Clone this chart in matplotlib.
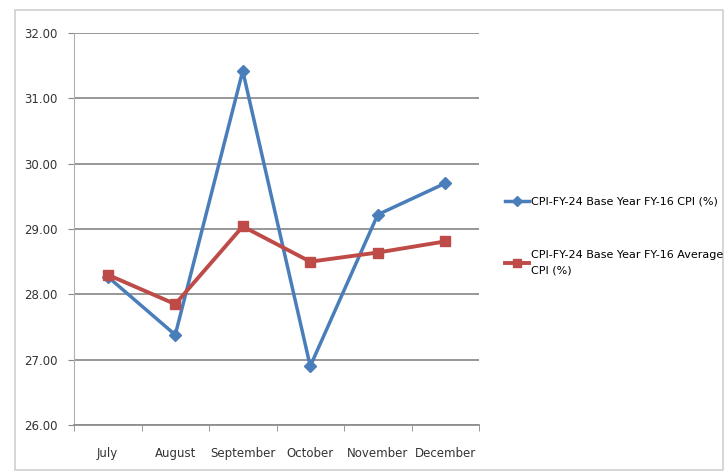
import matplotlib.pyplot as plt
from matplotlib.patches import Rectangle

months = ["July", "August", "September", "October", "November", "December"]
cpi = [28.27, 27.38, 31.42, 26.90, 29.22, 29.70]
avg_cpi = [28.30, 27.85, 29.04, 28.50, 28.64, 28.81]
labels = ["CPI-FY-24 Base Year FY-16 CPI (%)",
          "CPI-FY-24 Base Year FY-16 Average\nCPI (%)"]
yticks = [26, 27, 28, 29, 30, 31, 32]

plt.rcParams['font.family'] = ['Liberation Sans Narrow', 'DejaVu Sans']

fig = plt.figure(figsize=(7.27, 4.74), dpi=100)
fig.patches.append(Rectangle((0.02, 0.008), 0.975, 0.97, transform=fig.transFigure,
                             fill=False, edgecolor='#d0d0d0', linewidth=1.2))
ax = fig.add_axes([74 / 727, 1 - 425 / 474, 405 / 727, 392 / 474])

x = range(len(months))
l1, = ax.plot(x, cpi, color='#4a7ebb', linewidth=2.5, marker='D', markersize=6,
              label=labels[0])
l2, = ax.plot(x, avg_cpi, color='#be4b48', linewidth=2.8, marker='s', markersize=7,
              label=labels[1])

ax.set_xlim(-0.5, len(months) - 0.5)
ax.set_ylim(26, 32)
ax.set_yticks(yticks)
ax.set_yticklabels([f"{v:.2f}" for v in yticks], fontsize=8.5, color='#333333')
ax.set_xticks(list(x))
ax.set_xticklabels(months, fontsize=8.5, color='#333333')
ax.tick_params(axis='x', length=0, pad=16)
ax.set_xticks([i - 0.5 for i in range(len(months) + 1)], minor=True)
ax.tick_params(axis='x', which='minor', length=4, color='#888888', direction='out')
ax.tick_params(axis='y', length=4, color='#888888', pad=8)
ax.grid(axis='y', color='#8f8f8f', linewidth=1.3)
ax.set_axisbelow(True)
for s in ['top', 'right']:
    ax.spines[s].set_visible(False)
ax.spines['left'].set_color('#b0b0b0')
ax.spines['bottom'].set_color('#8f8f8f')
ax.spines['bottom'].set_linewidth(1.3)

leg = fig.legend(handles=[l1, l2], loc='upper left', bbox_to_anchor=(495 / 727, 1 - 187 / 474),
                 frameon=False, fontsize=8, handlelength=2.2, handletextpad=0.1,
                 labelspacing=3.9, markerscale=0.8)
for t in leg.get_texts():
    t.set_linespacing(1.6)

fig.savefig("out.png", dpi=100)
